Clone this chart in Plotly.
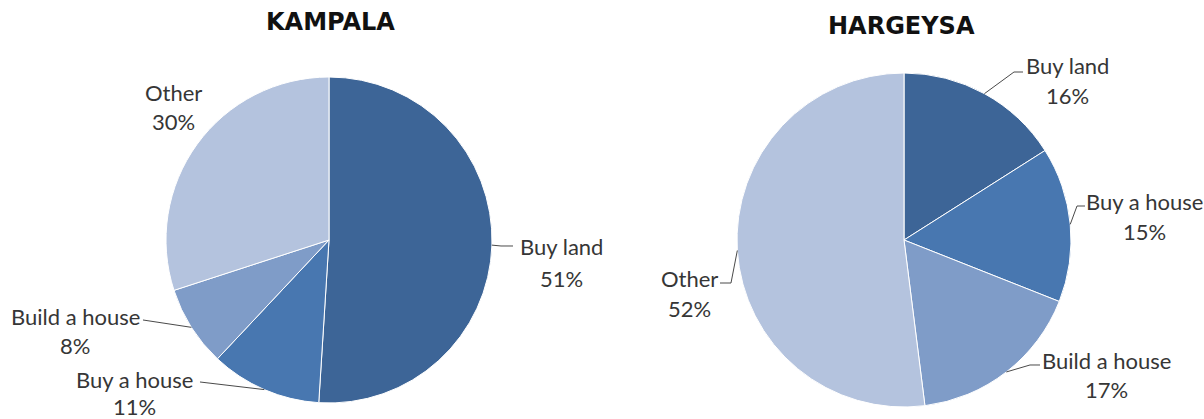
import math
import plotly.graph_objects as go

# Shares of respondents by intended use of savings, per city (percent)
categories = ["Buy land", "Buy a house", "Build a house", "Other"]
kampala_pct = [51, 11, 8, 30]
hargeysa_pct = [16, 15, 17, 52]
cities = ["KAMPALA", "HARGEYSA"]

slice_colors = ["#3d6597", "#4877b0", "#7f9cc8", "#b4c3de"]
TEXT_COLOR = "#363636"
LINE_COLOR = "#4a4a4a"
LABEL_FONT = dict(family="Lato", size=22, color=TEXT_COLOR)
TITLE_FONT = dict(family="DejaVu Sans", size=24, color="#111111", weight="bold")

W, H = 1204, 419


def fx(x):
    return x / W


def fy(y):
    return 1 - y / H


# Pie geometry (pixels) and label placement for each city.
# label: (name centre x, name centre y, pct centre y, elbow point or None, line end point or None)
layout_cfg = {
    "KAMPALA": dict(
        values=kampala_pct, cx=329, cy=240, r=163, title=(330, 22),
        labels={
            "Buy land": (561, 246, 278, (501, 246), (513, 246)),
            "Buy a house": (134, 379, 406, None, (200, 382)),
            "Build a house": (75, 316, 345, None, (143, 320)),
            "Other": (173, 92, 121, None, None),
        },
    ),
    "HARGEYSA": dict(
        values=hargeysa_pct, cx=904, cy=240, r=167, title=(901, 26),
        labels={
            "Buy land": (1067, 66, 96, (1014, 72), (1023, 72)),
            "Buy a house": (1144, 201, 232, (1077, 206), (1085, 206)),
            "Build a house": (1106, 360, 389, (1030, 365), (1040, 365)),
            "Other": (689, 278, 308, (731, 283), (720, 283)),
        },
    ),
}

fig = go.Figure()
annotations = []
shapes = []

for city in cities:
    cfg = layout_cfg[city]
    vals = cfg["values"]
    cx, cy, r = cfg["cx"], cfg["cy"], cfg["r"]
    fig.add_trace(go.Pie(
        labels=categories,
        values=vals,
        sort=False,
        direction="clockwise",
        rotation=0,
        marker=dict(colors=slice_colors, line=dict(color="#ffffff", width=1)),
        textinfo="none",
        hoverinfo="label+percent",
        showlegend=False,
        domain=dict(x=[fx(cx - r), fx(cx + r)], y=[fy(cy + r), fy(cy - r)]),
    ))

    tx, ty = cfg["title"]
    annotations.append(dict(
        text=city, x=fx(tx), y=fy(ty), xref="paper", yref="paper",
        showarrow=False, font=TITLE_FONT, xanchor="center", yanchor="middle",
    ))

    total = float(sum(vals))
    start = 0.0
    for cat, v in zip(categories, vals):
        mid = (start + v / 2.0) / total * 2 * math.pi
        start += v
        # point on the rim at the slice's middle angle (clockwise from 12 o'clock)
        ex = cx + r * math.sin(mid)
        ey = cy - r * math.cos(mid)
        nx, ny, py_, elbow, end = cfg["labels"][cat]
        annotations.append(dict(
            text=cat, x=fx(nx), y=fy(ny), xref="paper", yref="paper",
            showarrow=False, font=LABEL_FONT, xanchor="center", yanchor="middle",
        ))
        annotations.append(dict(
            text=f"{round(v / total * 100)}%", x=fx(nx), y=fy(py_),
            xref="paper", yref="paper", showarrow=False, font=LABEL_FONT,
            xanchor="center", yanchor="middle",
        ))
        if end is not None:
            pts = [(ex, ey)] + ([elbow] if elbow else []) + [end]
            path = "M " + " L ".join(f"{fx(x):.5f},{fy(y):.5f}" for x, y in pts)
            shapes.append(dict(
                type="path", path=path, xref="paper", yref="paper",
                line=dict(color=LINE_COLOR, width=1),
            ))

fig.update_layout(
    width=W, height=H,
    margin=dict(l=0, r=0, t=0, b=0),
    paper_bgcolor="#ffffff",
    plot_bgcolor="#ffffff",
    annotations=annotations,
    shapes=shapes,
)

fig.write_html("out.html")
